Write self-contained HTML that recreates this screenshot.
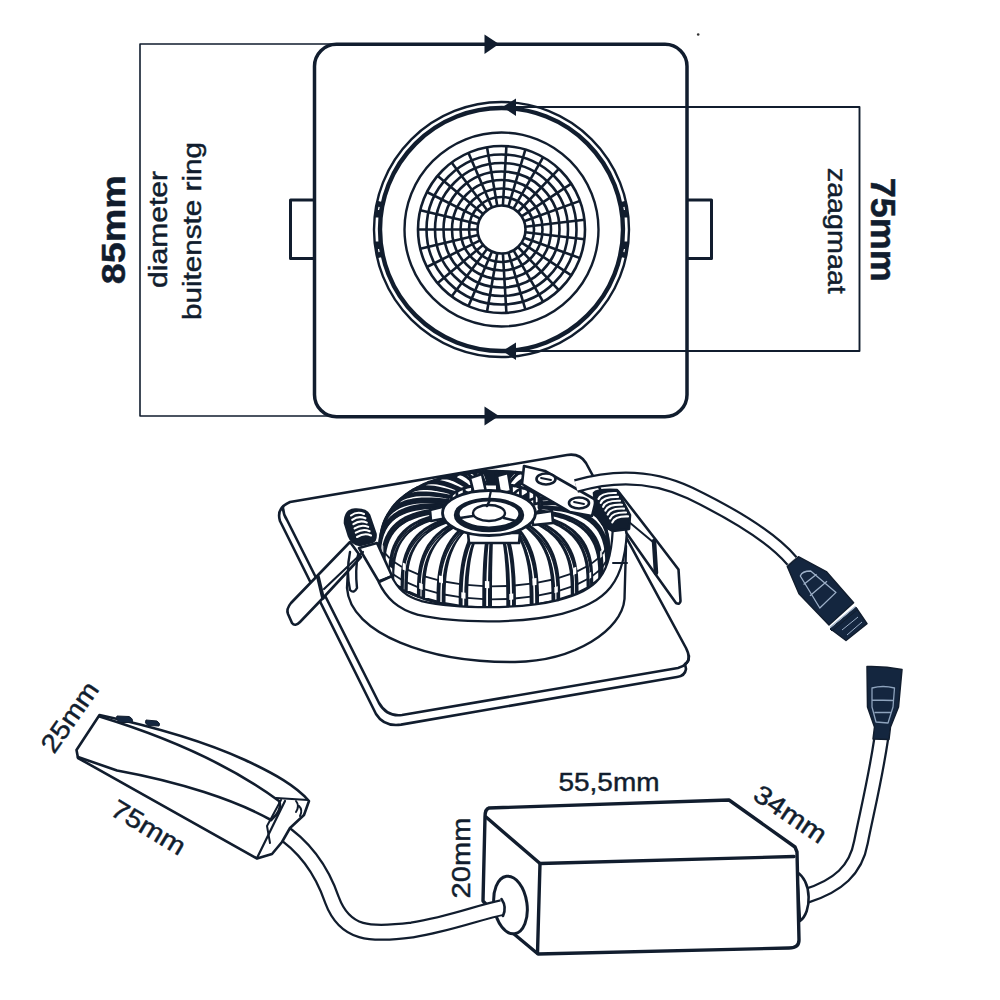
<!DOCTYPE html>
<html><head><meta charset="utf-8"><style>
html,body{margin:0;padding:0;background:#fff;}
svg{display:block;}
</style></head><body>
<svg width="1000" height="1000" viewBox="0 0 1000 1000">
<rect width="1000" height="1000" fill="#fff"/>

<g fill="none" stroke="#111d2e" stroke-linejoin="round" stroke-linecap="round">
  <!-- dimension lines left -->
  <path d="M490,44 H140 V416 H490" stroke-width="1.6"/>
  <!-- big rounded square -->
  <rect x="314.5" y="44.3" width="372.5" height="372.5" rx="22" ry="22" stroke-width="3.5"/>
  <!-- tabs -->
  <path d="M313,200 H290.5 V258.5 H313" stroke-width="3"/>
  <path d="M688,200 H711.5 V258.5 H688" stroke-width="3"/>
  <!-- dimension lines right -->
  <path d="M512,107 H859.5 V351 H512" stroke-width="1.9"/>
</g>
<g fill="#111d2e" stroke="none">
  <circle cx="698.2" cy="34.5" r="1.3" fill="#333"/>
  <path d="M484.5,34.5 L499,44 L484.5,54 Z"/>
  <path d="M484.5,406.5 L499,416 L484.5,425.5 Z"/>
  <path d="M516,98.5 L502.5,107 L516,116 Z"/>
  <path d="M516,342.5 L502.5,351 L516,360 Z"/>
</g>
<g fill="none" stroke="#111d2e">
<circle cx="501.5" cy="229.5" r="127.5" stroke-width="2.4"/>
<circle cx="501.5" cy="229.5" r="121.5" stroke-width="4.4"/>
<circle cx="501.5" cy="229.5" r="97" stroke-width="2.4"/>
<circle cx="501.5" cy="229.5" r="24.0" stroke-width="2.6"/>
<circle cx="501.5" cy="229.5" r="32.5" stroke-width="2.6"/>
<circle cx="501.5" cy="229.5" r="41.0" stroke-width="2.6"/>
<circle cx="501.5" cy="229.5" r="49.5" stroke-width="2.6"/>
<circle cx="501.5" cy="229.5" r="58.0" stroke-width="2.6"/>
<circle cx="501.5" cy="229.5" r="66.5" stroke-width="2.6"/>
<circle cx="501.5" cy="229.5" r="75.0" stroke-width="2.6"/>
<circle cx="501.5" cy="229.5" r="83.5" stroke-width="2.6"/>
<line x1="525.3" y1="232.3" x2="584.4" y2="239.2" stroke-width="2.6"/>
<line x1="524.1" y1="237.7" x2="580.0" y2="258.1" stroke-width="2.6"/>
<line x1="521.6" y1="242.7" x2="571.3" y2="275.4" stroke-width="2.6"/>
<line x1="518.0" y1="247.0" x2="558.8" y2="290.2" stroke-width="2.6"/>
<line x1="513.5" y1="250.3" x2="543.2" y2="301.8" stroke-width="2.6"/>
<line x1="508.4" y1="252.5" x2="525.4" y2="309.5" stroke-width="2.6"/>
<line x1="502.9" y1="253.5" x2="506.4" y2="312.9" stroke-width="2.6"/>
<line x1="497.3" y1="253.1" x2="487.0" y2="311.7" stroke-width="2.6"/>
<line x1="492.0" y1="251.5" x2="468.4" y2="306.2" stroke-width="2.6"/>
<line x1="487.2" y1="248.8" x2="451.6" y2="296.5" stroke-width="2.6"/>
<line x1="483.1" y1="244.9" x2="437.5" y2="283.2" stroke-width="2.6"/>
<line x1="480.1" y1="240.3" x2="426.9" y2="267.0" stroke-width="2.6"/>
<line x1="478.1" y1="235.0" x2="420.3" y2="248.8" stroke-width="2.6"/>
<line x1="477.5" y1="229.5" x2="418.0" y2="229.5" stroke-width="2.6"/>
<line x1="478.1" y1="224.0" x2="420.3" y2="210.2" stroke-width="2.6"/>
<line x1="480.1" y1="218.7" x2="426.9" y2="192.0" stroke-width="2.6"/>
<line x1="483.1" y1="214.1" x2="437.5" y2="175.8" stroke-width="2.6"/>
<line x1="487.2" y1="210.2" x2="451.6" y2="162.5" stroke-width="2.6"/>
<line x1="492.0" y1="207.5" x2="468.4" y2="152.8" stroke-width="2.6"/>
<line x1="497.3" y1="205.9" x2="487.0" y2="147.3" stroke-width="2.6"/>
<line x1="502.9" y1="205.5" x2="506.4" y2="146.1" stroke-width="2.6"/>
<line x1="508.4" y1="206.5" x2="525.4" y2="149.5" stroke-width="2.6"/>
<line x1="513.5" y1="208.7" x2="543.2" y2="157.2" stroke-width="2.6"/>
<line x1="518.0" y1="212.0" x2="558.8" y2="168.8" stroke-width="2.6"/>
<line x1="521.6" y1="216.3" x2="571.3" y2="183.6" stroke-width="2.6"/>
<line x1="524.1" y1="221.3" x2="580.0" y2="200.9" stroke-width="2.6"/>
<line x1="525.3" y1="226.7" x2="584.4" y2="219.8" stroke-width="2.6"/>
<path d="M380.2,257.5 A124.5,124.5 0 0 1 380.2,201.5" stroke-width="6.5"/>
<path d="M377.1,241.5 A125,125 0 0 1 377.1,217.5" stroke="#fff" stroke-width="2.6"/>
<path d="M378.5,249.0 L379.1,252.2" stroke="#fff" stroke-width="1.2"/>
<path d="M378.5,210.0 L379.1,206.8" stroke="#fff" stroke-width="1.2"/>
<path d="M622.8,201.5 A124.5,124.5 0 0 1 622.8,257.5" stroke-width="6.5"/>
<path d="M625.9,217.5 A125,125 0 0 1 625.9,241.5" stroke="#fff" stroke-width="2.6"/>
<path d="M624.5,210.0 L623.9,206.8" stroke="#fff" stroke-width="1.2"/>
<path d="M624.5,249.0 L623.9,252.2" stroke="#fff" stroke-width="1.2"/>
</g>
<g fill="#111d2e" stroke="#111d2e" stroke-width="0.45" font-family="Liberation Sans, sans-serif">
  <text transform="translate(124.5,229.8) rotate(-90)" text-anchor="middle" font-weight="bold" font-size="34" textLength="109" lengthAdjust="spacingAndGlyphs">85mm</text>
  <text transform="translate(166.5,229.5) rotate(-90)" text-anchor="middle" font-size="25" textLength="117" lengthAdjust="spacingAndGlyphs">diameter</text>
  <text transform="translate(201,231) rotate(-90)" text-anchor="middle" font-size="25" textLength="178" lengthAdjust="spacingAndGlyphs">buitenste ring</text>
  <text transform="translate(871,229.7) rotate(90)" text-anchor="middle" font-weight="bold" font-size="35" textLength="104" lengthAdjust="spacingAndGlyphs">75mm</text>
  <text transform="translate(828,230.8) rotate(90)" text-anchor="middle" font-size="25" textLength="126" lengthAdjust="spacingAndGlyphs">zaagmaat</text>
  <text x="609" y="791" text-anchor="middle" font-size="26" textLength="101" lengthAdjust="spacingAndGlyphs">55,5mm</text>
  <text transform="translate(469.5,858) rotate(-90)" text-anchor="middle" font-size="26" textLength="81" lengthAdjust="spacingAndGlyphs">20mm</text>
</g>

<g fill="#fff" stroke="#111d2e" stroke-width="2.6" stroke-linejoin="round" stroke-linecap="round">
  <path d="M290,502 L567,455 Q580,453 586,463 L686,648 Q692,660 685,664 L686,669 Q685,676 677,677 L401,724.6 Q384,727 376,714 L280,521 Q276,508 290,502 Z"/>
  <path d="M283,507 Q283,514 287,520 L379,703 Q387,717 402,715 L678,668 Q689,665 689,656" fill="none"/>
</g>

<g fill="#fff" stroke="#111d2e" stroke-width="2.4" stroke-linejoin="round" stroke-linecap="round">
  <path d="M349,548 L347,588 C350,634 430,663 515,662 C575,661 622,630 624.5,599 L626,546 Z" stroke="none"/>
  <path d="M349,548 L347,588 C350,634 430,663 515,662 C575,661 622,630 624.5,599 L626,546" fill="none"/>
</g>
<g><polygon points="446.0,504.0 430.6,501.9 426.3,499.5 422.9,497.1 424.8,494.5 422.9,491.9 426.1,489.3 426.0,486.8 430.4,484.4 432.2,482.1 437.8,480.0 443.9,478.0 450.3,476.3 457.1,474.8 462.7,473.5 470.3,472.5 478.1,471.8 486.0,471.4 494.0,471.2 502.0,471.4 509.9,471.8 517.7,472.5 525.3,473.5 530.9,474.8 537.7,476.3 544.1,478.0 550.2,480.0 555.8,482.1 557.6,484.4 562.0,486.8 561.9,489.3 565.1,491.9 563.2,494.5 565.1,497.1 561.7,499.5 557.4,501.9 542.0,504.0 609.0,560.0 608.6,564.2 607.3,568.4 605.1,572.5 602.1,576.5 598.2,580.4 593.6,584.1 588.2,587.7 582.1,591.0 575.3,594.2 567.9,597.0 560.0,599.6 551.5,601.8 542.6,603.8 533.3,605.4 523.8,606.7 514.0,607.6 504.0,608.1 494.0,608.3 484.0,608.1 474.0,607.6 464.2,606.7 454.7,605.4 445.4,603.8 436.5,601.8 428.0,599.6 420.1,597.0 412.7,594.2 405.9,591.0 399.8,587.7 394.4,584.1 389.8,580.4 385.9,576.5 382.9,572.5 380.7,568.4 379.4,564.2 379.0,560.0" fill="#111d2e" stroke="#111d2e" stroke-width="3"/>
<polygon points="487.9,484.0 487.6,481.8 487.0,479.7 486.4,477.7 485.8,475.9 485.2,474.4 484.6,473.1 484.1,472.2 483.5,471.6 483.0,471.5 482.6,471.8 482.1,472.6 481.8,473.8 481.4,475.6 481.1,477.9 480.8,480.8 480.6,484.4 480.4,488.6 480.3,493.8 480.2,500.4 480.2,512.0 497.5,511.7 497.5,500.1 497.5,493.5 497.5,488.3 497.4,484.0 497.4,480.5 497.3,477.6 497.2,475.3 497.1,473.5 497.0,472.3 496.9,471.5 496.8,471.3 496.7,471.4 496.5,472.0 496.4,472.9 496.3,474.2 496.1,475.7 496.0,477.5 495.8,479.5 495.6,481.7 495.9,483.9" fill="#fff" stroke="#111d2e" stroke-width="3.0" stroke-linejoin="round"/>
<polygon points="497.9,483.9 498.8,481.7 499.2,479.6 499.7,477.6 500.1,475.8 500.6,474.3 501.0,473.0 501.4,472.1 501.8,471.5 502.2,471.4 502.5,471.7 502.8,472.4 503.1,473.7 503.4,475.5 503.6,477.8 503.8,480.7 504.0,484.2 504.1,488.5 504.2,493.7 504.2,500.2 504.3,511.9 521.3,513.1 521.3,501.4 521.2,494.8 520.9,489.6 520.6,485.4 520.1,481.8 519.6,478.9 519.0,476.5 518.3,474.8 517.5,473.5 516.7,472.7 515.8,472.3 514.8,472.4 513.7,472.9 512.6,473.8 511.5,475.0 510.3,476.5 509.1,478.3 507.9,480.2 506.7,482.3 505.8,484.5" fill="#fff" stroke="#111d2e" stroke-width="3.0" stroke-linejoin="round"/>
<polygon points="481.9,484.5 480.6,482.4 479.3,480.3 478.0,478.4 476.7,476.6 475.5,475.1 474.3,473.9 473.1,473.1 472.0,472.6 471.0,472.5 470.0,472.8 469.1,473.6 468.3,474.9 467.6,476.7 466.9,479.0 466.4,482.0 465.9,485.5 465.6,489.8 465.3,495.0 465.1,501.6 465.1,513.3 470.6,522.2 470.7,512.8 470.8,507.5 470.9,503.3 471.2,499.7 471.5,496.8 471.9,494.3 472.3,492.3 472.8,490.7 473.3,489.5 473.9,488.6 474.6,488.2 475.3,488.0 476.0,488.2 476.8,488.6 477.6,489.3 478.4,490.3 479.3,491.4 480.2,492.7 481.0,494.1 481.9,495.5" fill="#fff" stroke="#111d2e" stroke-width="2.7" stroke-linejoin="round"/>
<polygon points="478.1,485.0 476.8,482.8 475.1,480.8 473.4,478.9 471.8,477.3 470.2,475.8 468.6,474.6 467.1,473.8 465.7,473.4 464.4,473.3 463.1,473.7 462.0,474.5 460.9,475.8 460.0,477.7 459.1,480.0 458.4,483.0 457.8,486.5 457.4,490.8 457.1,496.1 456.9,502.6 456.8,514.3 473.6,512.5 473.6,500.8 473.7,494.2 473.9,489.0 474.1,484.8 474.5,481.2 474.9,478.3 475.3,476.0 475.8,474.2 476.4,472.9 477.0,472.2 477.7,471.8 478.5,472.0 479.2,472.5 480.1,473.4 480.9,474.6 481.8,476.2 482.7,477.9 483.6,479.9 484.5,482.0 485.8,484.1" fill="#fff" stroke="#111d2e" stroke-width="3.0" stroke-linejoin="round"/>
<polygon points="511.5,485.2 513.5,483.2 515.4,481.2 517.3,479.4 519.1,477.7 520.9,476.3 522.7,475.1 524.3,474.3 525.9,473.9 527.4,473.9 528.9,474.3 530.2,475.2 531.4,476.5 532.4,478.3 533.4,480.7 534.2,483.7 534.8,487.3 535.4,491.6 535.7,496.8 536.0,503.4 536.0,515.0 528.0,523.6 527.9,514.3 527.8,508.9 527.5,504.7 527.2,501.2 526.7,498.2 526.2,495.7 525.6,493.6 524.8,492.0 524.0,490.8 523.2,489.9 522.2,489.4 521.2,489.2 520.1,489.3 519.0,489.7 517.8,490.4 516.6,491.2 515.4,492.3 514.1,493.5 512.8,494.9 511.5,496.2" fill="#fff" stroke="#111d2e" stroke-width="2.7" stroke-linejoin="round"/>
<polygon points="507.8,484.7 509.7,482.6 511.2,480.6 512.7,478.7 514.2,477.0 515.7,475.5 517.1,474.3 518.4,473.5 519.7,473.0 520.9,472.9 522.1,473.3 523.1,474.1 524.1,475.4 524.9,477.2 525.7,479.6 526.3,482.5 526.9,486.1 527.3,490.4 527.6,495.6 527.8,502.2 527.8,513.8 544.0,516.5 543.9,504.8 543.6,498.2 543.2,493.0 542.6,488.7 541.8,485.1 540.8,482.1 539.7,479.7 538.4,477.8 537.0,476.4 535.4,475.5 533.8,475.1 532.0,475.0 530.1,475.4 528.1,476.1 526.0,477.2 523.9,478.6 521.7,480.2 519.4,481.9 517.1,483.9 515.2,485.9" fill="#fff" stroke="#111d2e" stroke-width="3.0" stroke-linejoin="round"/>
<polygon points="472.5,486.0 470.2,484.0 467.8,482.1 465.5,480.3 463.3,478.7 461.1,477.4 458.9,476.3 456.9,475.6 454.9,475.3 453.1,475.3 451.4,475.7 449.8,476.7 448.3,478.1 447.0,479.9 445.8,482.4 444.9,485.4 444.0,489.0 443.4,493.3 442.9,498.5 442.7,505.1 442.6,516.8 452.4,525.1 452.5,515.7 452.7,510.3 453.0,506.1 453.4,502.5 453.9,499.5 454.6,497.0 455.4,495.0 456.3,493.3 457.2,492.0 458.3,491.1 459.5,490.5 460.7,490.3 462.0,490.4 463.4,490.7 464.8,491.4 466.3,492.2 467.8,493.2 469.4,494.4 471.0,495.6 472.5,497.0" fill="#fff" stroke="#111d2e" stroke-width="2.7" stroke-linejoin="round"/>
<polygon points="469.0,486.8 466.7,484.8 464.0,483.0 461.3,481.3 458.7,479.8 456.2,478.5 453.8,477.5 451.4,476.9 449.1,476.6 447.0,476.7 445.0,477.2 443.2,478.2 441.5,479.6 440.0,481.5 438.7,484.0 437.6,487.0 436.7,490.7 435.9,495.0 435.4,500.3 435.1,506.9 435.0,518.5 450.5,515.3 450.5,503.6 450.8,497.0 451.2,491.8 451.7,487.5 452.4,483.9 453.2,481.0 454.2,478.6 455.3,476.7 456.5,475.4 457.9,474.5 459.4,474.1 460.9,474.1 462.6,474.5 464.3,475.3 466.1,476.4 468.0,477.8 469.9,479.5 471.9,481.3 473.8,483.3 476.2,485.3" fill="#fff" stroke="#111d2e" stroke-width="3.0" stroke-linejoin="round"/>
<polygon points="520.4,487.2 523.3,485.3 526.2,483.6 529.1,481.9 531.9,480.5 534.6,479.3 537.2,478.3 539.7,477.7 542.1,477.5 544.4,477.6 546.6,478.2 548.5,479.2 550.3,480.6 551.9,482.6 553.3,485.1 554.6,488.1 555.6,491.8 556.3,496.2 556.9,501.4 557.3,508.0 557.4,519.7 545.2,527.4 545.2,518.0 544.9,512.7 544.6,508.4 544.0,504.8 543.4,501.8 542.5,499.2 541.6,497.1 540.5,495.4 539.3,494.1 538.0,493.1 536.6,492.5 535.0,492.2 533.4,492.2 531.7,492.5 529.9,493.0 528.1,493.8 526.2,494.7 524.3,495.8 522.4,496.9 520.4,498.2" fill="#fff" stroke="#111d2e" stroke-width="2.7" stroke-linejoin="round"/>
<polygon points="517.0,486.3 519.9,484.5 522.5,482.6 525.0,480.9 527.4,479.3 529.8,478.0 532.2,477.0 534.4,476.3 536.5,476.0 538.5,476.1 540.4,476.6 542.1,477.5 543.7,478.9 545.2,480.9 546.4,483.3 547.5,486.3 548.4,489.9 549.1,494.3 549.6,499.5 549.9,506.1 550.0,517.8 564.4,521.8 564.3,510.1 563.9,503.5 563.3,498.2 562.4,493.8 561.3,490.1 559.9,487.1 558.4,484.5 556.6,482.5 554.6,481.0 552.4,479.9 550.0,479.3 547.5,479.1 544.8,479.2 542.0,479.8 539.1,480.6 536.1,481.7 533.0,483.1 529.8,484.7 526.6,486.3 523.7,488.2" fill="#fff" stroke="#111d2e" stroke-width="3.0" stroke-linejoin="round"/>
<polygon points="464.1,488.2 460.8,486.5 457.5,484.9 454.3,483.3 451.2,482.0 448.1,480.9 445.1,480.1 442.3,479.5 439.5,479.4 437.0,479.6 434.5,480.3 432.3,481.3 430.3,482.9 428.5,484.9 426.9,487.5 425.5,490.5 424.4,494.2 423.5,498.6 422.8,503.9 422.4,510.6 422.3,522.2 436.0,529.5 436.1,520.1 436.4,514.7 436.8,510.4 437.4,506.8 438.2,503.8 439.1,501.2 440.2,499.0 441.4,497.3 442.7,495.9 444.2,494.9 445.9,494.2 447.6,493.8 449.4,493.8 451.3,494.0 453.3,494.4 455.4,495.1 457.5,496.0 459.7,497.0 461.9,498.1 464.1,499.2" fill="#fff" stroke="#111d2e" stroke-width="2.7" stroke-linejoin="round"/>
<polygon points="461.1,489.3 457.8,487.6 454.2,486.1 450.7,484.7 447.2,483.4 443.9,482.4 440.6,481.7 437.5,481.3 434.5,481.2 431.7,481.5 429.1,482.2 426.7,483.4 424.5,485.0 422.5,487.1 420.7,489.7 419.2,492.8 418.0,496.6 417.0,501.0 416.3,506.3 415.9,512.9 415.7,524.6 429.3,520.1 429.4,508.4 429.8,501.8 430.3,496.5 431.1,492.1 432.2,488.5 433.4,485.4 434.8,482.9 436.5,481.0 438.3,479.5 440.3,478.5 442.5,477.9 444.8,477.7 447.3,478.0 449.9,478.6 452.6,479.5 455.3,480.7 458.2,482.1 461.1,483.8 464.0,485.5 467.3,487.2" fill="#fff" stroke="#111d2e" stroke-width="3.0" stroke-linejoin="round"/>
<polygon points="528.2,489.9 531.9,488.3 535.7,486.8 539.3,485.5 543.0,484.3 546.5,483.4 549.9,482.7 553.1,482.3 556.3,482.3 559.2,482.7 562.0,483.5 564.5,484.7 566.8,486.3 568.9,488.5 570.7,491.1 572.3,494.3 573.6,498.0 574.6,502.5 575.3,507.8 575.8,514.4 575.9,526.1 560.3,532.6 560.2,523.2 559.9,517.8 559.4,513.5 558.7,509.9 557.8,506.8 556.8,504.2 555.5,501.9 554.1,500.1 552.6,498.7 550.9,497.6 549.0,496.8 547.0,496.3 545.0,496.2 542.8,496.3 540.5,496.6 538.1,497.2 535.7,497.9 533.2,498.8 530.7,499.8 528.2,500.9" fill="#fff" stroke="#111d2e" stroke-width="2.7" stroke-linejoin="round"/>
<polygon points="525.3,488.7 529.0,487.2 532.5,485.6 535.9,484.1 539.2,482.8 542.4,481.8 545.6,481.0 548.6,480.5 551.5,480.4 554.2,480.7 556.7,481.4 559.1,482.5 561.2,484.1 563.1,486.2 564.8,488.7 566.3,491.9 567.5,495.6 568.4,500.0 569.1,505.3 569.5,511.9 569.6,523.6 581.8,528.8 581.6,517.1 581.2,510.4 580.4,505.1 579.3,500.6 577.9,496.8 576.2,493.6 574.2,490.9 572.0,488.7 569.5,487.0 566.8,485.7 563.9,484.8 560.7,484.4 557.4,484.3 553.9,484.5 550.2,485.1 546.4,485.9 542.6,487.0 538.6,488.2 534.7,489.6 530.9,491.1" fill="#fff" stroke="#111d2e" stroke-width="3.0" stroke-linejoin="round"/>
<polygon points="456.9,491.2 452.9,489.8 448.8,488.5 444.8,487.3 440.9,486.2 437.1,485.4 433.4,484.9 429.9,484.7 426.5,484.8 423.3,485.3 420.3,486.1 417.6,487.4 415.1,489.2 412.8,491.4 410.8,494.1 409.1,497.3 407.7,501.1 406.6,505.6 405.8,511.0 405.3,517.6 405.2,529.3 422.2,535.2 422.3,525.8 422.6,520.4 423.1,516.1 423.9,512.4 424.8,509.3 426.0,506.6 427.3,504.4 428.8,502.5 430.5,501.0 432.4,499.8 434.4,499.0 436.5,498.4 438.8,498.2 441.2,498.2 443.6,498.5 446.2,498.9 448.8,499.6 451.5,500.4 454.2,501.3 456.9,502.2" fill="#fff" stroke="#111d2e" stroke-width="2.7" stroke-linejoin="round"/>
<polygon points="454.5,492.5 450.4,491.1 446.2,489.9 441.9,488.9 437.8,488.0 433.8,487.3 429.9,486.9 426.1,486.7 422.5,487.0 419.1,487.6 416.0,488.5 413.1,489.9 410.4,491.8 408.0,494.0 405.9,496.8 404.1,500.1 402.6,503.9 401.4,508.5 400.6,513.8 400.1,520.5 399.9,532.2 410.9,526.6 411.1,514.9 411.5,508.3 412.3,502.9 413.3,498.5 414.6,494.7 416.2,491.5 418.1,488.9 420.2,486.8 422.5,485.1 425.1,483.9 427.9,483.1 430.9,482.7 434.0,482.7 437.4,483.0 440.8,483.7 444.4,484.6 448.0,485.8 451.8,487.1 455.5,488.5 459.6,489.9" fill="#fff" stroke="#111d2e" stroke-width="3.0" stroke-linejoin="round"/>
<polygon points="534.5,493.1 538.9,492.0 543.3,490.9 547.6,489.9 551.9,489.0 556.1,488.4 560.1,488.1 564.0,488.0 567.6,488.3 571.1,489.0 574.4,490.0 577.4,491.5 580.1,493.3 582.6,495.7 584.8,498.5 586.6,501.8 588.2,505.7 589.4,510.2 590.2,515.6 590.7,522.3 590.9,534.0 572.4,539.0 572.3,529.6 571.9,524.2 571.3,519.8 570.5,516.1 569.5,512.9 568.2,510.2 566.8,507.9 565.1,505.9 563.3,504.3 561.3,503.0 559.1,502.1 556.7,501.4 554.3,501.1 551.7,501.0 549.0,501.1 546.2,501.5 543.3,502.0 540.4,502.6 537.4,503.4 534.5,504.1" fill="#fff" stroke="#111d2e" stroke-width="2.7" stroke-linejoin="round"/>
<polygon points="532.2,491.8 536.6,490.6 540.8,489.3 544.9,488.2 549.0,487.2 552.9,486.5 556.7,486.0 560.4,485.9 563.9,486.1 567.2,486.6 570.3,487.5 573.1,488.9 575.8,490.7 578.1,492.9 580.1,495.7 581.9,498.9 583.4,502.8 584.5,507.3 585.3,512.6 585.8,519.3 586.0,531.0 595.3,537.1 595.1,525.4 594.6,518.7 593.7,513.3 592.4,508.7 590.8,504.8 588.9,501.4 586.6,498.5 584.0,496.1 581.2,494.2 578.0,492.6 574.6,491.5 571.0,490.7 567.1,490.3 563.1,490.2 558.9,490.4 554.5,490.9 550.1,491.6 545.5,492.4 540.9,493.4 536.5,494.6" fill="#fff" stroke="#111d2e" stroke-width="3.0" stroke-linejoin="round"/>
<polygon points="451.4,494.7 446.7,493.7 442.1,492.8 437.5,491.9 433.0,491.3 428.6,490.8 424.4,490.6 420.3,490.7 416.4,491.2 412.8,492.0 409.4,493.1 406.2,494.7 403.3,496.7 400.7,499.1 398.4,502.0 396.5,505.4 394.8,509.3 393.6,513.9 392.7,519.3 392.1,526.0 391.9,537.7 411.5,542.0 411.6,532.6 412.0,527.2 412.6,522.8 413.4,519.1 414.5,515.9 415.8,513.1 417.3,510.7 419.1,508.7 421.0,507.0 423.2,505.6 425.5,504.6 427.9,503.9 430.5,503.4 433.3,503.2 436.1,503.2 439.1,503.5 442.1,503.9 445.2,504.4 448.3,505.0 451.4,505.7" fill="#fff" stroke="#111d2e" stroke-width="2.7" stroke-linejoin="round"/>
<polygon points="449.7,496.2 445.0,495.2 440.2,494.4 435.5,493.7 430.8,493.2 426.3,492.9 421.9,492.9 417.7,493.1 413.6,493.7 409.8,494.6 406.3,495.9 403.0,497.5 400.0,499.6 397.3,502.1 395.0,505.1 392.9,508.5 391.3,512.5 389.9,517.1 389.0,522.6 388.4,529.3 388.2,541.0 396.2,534.6 396.4,522.9 396.9,516.2 397.8,510.8 399.0,506.2 400.6,502.3 402.4,499.0 404.6,496.2 407.1,493.9 409.9,492.0 412.9,490.5 416.2,489.4 419.7,488.8 423.4,488.5 427.3,488.5 431.4,488.8 435.6,489.4 439.9,490.2 444.3,491.1 448.7,492.2 453.4,493.3" fill="#fff" stroke="#111d2e" stroke-width="3.0" stroke-linejoin="round"/>
<polygon points="538.9,496.9 543.9,496.2 548.8,495.4 553.6,494.9 558.3,494.4 562.9,494.2 567.4,494.2 571.7,494.6 575.8,495.2 579.7,496.2 583.3,497.5 586.6,499.2 589.7,501.4 592.4,503.9 594.8,506.9 596.9,510.4 598.6,514.5 599.9,519.1 600.9,524.6 601.5,531.3 601.7,543.0 581.1,546.3 580.9,536.9 580.6,531.4 579.9,527.0 579.0,523.3 577.9,520.0 576.5,517.1 574.9,514.7 573.0,512.5 571.0,510.8 568.7,509.3 566.3,508.2 563.7,507.3 561.0,506.7 558.1,506.4 555.1,506.2 552.0,506.3 548.8,506.6 545.5,506.9 542.2,507.4 538.9,507.9" fill="#fff" stroke="#111d2e" stroke-width="2.7" stroke-linejoin="round"/>
<polygon points="537.4,495.4 542.3,494.6 547.1,493.7 551.7,493.0 556.3,492.4 560.8,492.1 565.1,491.9 569.3,492.1 573.3,492.6 577.0,493.5 580.5,494.7 583.8,496.3 586.7,498.4 589.4,500.9 591.7,503.8 593.7,507.2 595.4,511.2 596.6,515.8 597.6,521.3 598.1,528.0 598.3,539.7 604.4,546.5 604.2,534.8 603.6,528.0 602.6,522.5 601.3,517.8 599.5,513.7 597.4,510.2 594.9,507.1 592.1,504.4 589.0,502.2 585.6,500.4 581.9,498.9 577.9,497.8 573.7,497.0 569.3,496.6 564.7,496.4 560.0,496.5 555.1,496.8 550.1,497.2 545.1,497.8 540.2,498.5" fill="#fff" stroke="#111d2e" stroke-width="3.0" stroke-linejoin="round"/>
<polygon points="447.7,498.6 442.7,498.1 437.6,497.5 432.7,497.1 427.8,496.9 423.0,496.8 418.4,497.0 414.0,497.5 409.8,498.3 405.8,499.4 402.1,500.9 398.6,502.8 395.5,505.0 392.7,507.7 390.2,510.8 388.1,514.4 386.3,518.4 384.9,523.2 383.9,528.7 383.3,535.4 383.1,547.1 404.4,549.6 404.5,540.2 404.9,534.7 405.6,530.3 406.5,526.5 407.7,523.2 409.1,520.3 410.7,517.7 412.6,515.6 414.7,513.7 417.1,512.2 419.6,510.9 422.2,510.0 425.1,509.3 428.0,508.8 431.1,508.6 434.3,508.5 437.6,508.7 440.9,508.9 444.3,509.2 447.7,509.6" fill="#fff" stroke="#111d2e" stroke-width="2.7" stroke-linejoin="round"/>
<polygon points="446.8,500.3 441.7,499.7 436.6,499.3 431.6,499.1 426.6,499.0 421.7,499.1 417.1,499.5 412.6,500.1 408.3,501.0 404.2,502.3 400.4,503.9 396.9,505.8 393.7,508.2 390.8,510.9 388.3,514.1 386.2,517.7 384.4,521.9 383.0,526.6 382.0,532.2 381.4,539.0 381.2,550.7 385.8,543.7 386.0,532.0 386.5,525.2 387.5,519.7 388.9,515.1 390.6,511.0 392.6,507.5 395.1,504.5 397.8,501.9 400.9,499.8 404.2,498.0 407.9,496.7 411.8,495.7 415.9,495.0 420.2,494.7 424.7,494.6 429.3,494.8 434.1,495.2 439.0,495.8 443.9,496.4 449.0,497.0" fill="#fff" stroke="#111d2e" stroke-width="3.0" stroke-linejoin="round"/>
<polygon points="541.5,501.0 546.7,500.7 551.8,500.4 556.9,500.3 561.9,500.3 566.8,500.5 571.5,500.9 576.1,501.6 580.4,502.6 584.5,503.9 588.3,505.6 591.8,507.6 595.1,510.1 598.0,512.9 600.5,516.1 602.7,519.8 604.5,524.0 605.9,528.7 606.9,534.3 607.5,541.1 607.7,552.8 586.0,554.2 585.8,544.8 585.4,539.3 584.7,534.8 583.8,531.0 582.6,527.6 581.1,524.6 579.4,522.0 577.5,519.7 575.3,517.8 572.9,516.1 570.4,514.7 567.6,513.6 564.7,512.8 561.7,512.2 558.5,511.8 555.2,511.6 551.9,511.5 548.4,511.6 545.0,511.8 541.5,512.0" fill="#fff" stroke="#111d2e" stroke-width="2.7" stroke-linejoin="round"/>
<polygon points="540.7,499.3 545.9,499.0 551.0,498.6 556.0,498.3 561.0,498.1 565.8,498.2 570.4,498.5 574.9,499.0 579.2,499.9 583.2,501.1 587.0,502.6 590.5,504.6 593.6,506.9 596.5,509.6 599.0,512.7 601.1,516.3 602.9,520.5 604.3,525.2 605.3,530.7 605.9,537.5 606.1,549.2 608.7,556.4 608.5,544.7 607.9,537.9 606.8,532.3 605.4,527.5 603.6,523.2 601.4,519.5 598.8,516.2 595.9,513.3 592.7,510.8 589.1,508.6 585.3,506.8 581.1,505.4 576.8,504.2 572.2,503.4 567.4,502.8 562.5,502.4 557.5,502.3 552.3,502.3 547.1,502.4 541.9,502.7" fill="#fff" stroke="#111d2e" stroke-width="3.0" stroke-linejoin="round"/>
<polygon points="446.1,502.8 440.8,502.7 435.6,502.6 430.5,502.6 425.4,502.8 420.5,503.2 415.7,503.8 411.1,504.7 406.8,505.9 402.7,507.4 398.8,509.2 395.2,511.3 392.0,513.9 389.1,516.8 386.5,520.1 384.3,523.9 382.5,528.1 381.1,533.0 380.0,538.6 379.4,545.4 379.2,557.1 401.2,557.7 401.3,548.2 401.7,542.7 402.4,538.2 403.4,534.4 404.6,530.9 406.1,527.9 407.8,525.2 409.7,522.9 411.9,520.8 414.3,519.1 416.9,517.6 419.7,516.4 422.6,515.4 425.7,514.7 428.9,514.2 432.2,513.9 435.6,513.7 439.1,513.7 442.6,513.7 446.1,513.8" fill="#fff" stroke="#111d2e" stroke-width="2.7" stroke-linejoin="round"/>
<polygon points="446.0,504.5 440.7,504.4 435.5,504.4 430.4,504.7 425.3,505.0 420.4,505.5 415.6,506.3 411.0,507.3 406.6,508.6 402.5,510.3 398.6,512.2 395.1,514.5 391.8,517.1 388.9,520.1 386.3,523.5 384.1,527.3 382.3,531.7 380.9,536.5 379.8,542.2 379.2,549.0 379.0,560.7 380.1,553.5 380.3,541.7 380.9,535.0 381.9,529.4 383.3,524.6 385.1,520.4 387.3,516.7 389.8,513.5 392.7,510.7 396.0,508.2 399.5,506.2 403.3,504.5 407.4,503.1 411.8,502.1 416.3,501.4 421.0,500.9 425.9,500.7 430.9,500.6 436.1,500.8 441.2,501.0 446.5,501.1" fill="#fff" stroke="#111d2e" stroke-width="3.0" stroke-linejoin="round"/>
<polygon points="446.5,503.2 441.3,502.9 436.2,502.6 431.1,502.5 426.1,502.5 421.2,502.6 416.5,503.0 411.9,503.7 407.6,504.7 403.5,505.9 399.7,507.5 396.2,509.5 392.9,511.8 390.1,514.5 387.5,517.5 385.3,521.1 383.5,525.1 382.1,529.7 381.1,535.0 380.5,541.5 380.3,552.8 380.8,551.4 381.0,540.1 381.7,533.6 382.7,528.3 384.1,523.7 385.9,519.7 388.0,516.2 390.6,513.2 393.4,510.5 396.6,508.3 400.2,506.4 404.0,504.8 408.0,503.6 412.3,502.7 416.8,502.1 421.5,501.7 426.4,501.6 431.4,501.7 436.5,501.9 441.6,502.3 446.8,502.6" fill="#fff" stroke="#111d2e" stroke-width="1.6" stroke-linejoin="round"/>
<polygon points="541.9,505.2 547.2,505.4 552.4,505.5 557.5,505.8 562.6,506.3 567.5,506.9 572.3,507.8 576.9,508.9 581.2,510.3 585.3,512.0 589.2,514.0 592.8,516.3 596.0,519.0 598.9,522.1 601.5,525.5 603.7,529.4 605.5,533.8 606.9,538.7 608.0,544.3 608.6,551.1 608.8,562.9 586.8,562.3 586.7,552.9 586.3,547.4 585.6,542.9 584.6,538.9 583.4,535.4 581.9,532.3 580.2,529.6 578.3,527.1 576.1,525.0 573.7,523.1 571.1,521.5 568.3,520.2 565.4,519.1 562.3,518.2 559.1,517.5 555.8,517.0 552.4,516.7 548.9,516.4 545.4,516.3 541.9,516.2" fill="#fff" stroke="#111d2e" stroke-width="2.7" stroke-linejoin="round"/>
<polygon points="542.0,503.5 547.3,503.7 552.5,503.7 557.6,503.8 562.7,504.1 567.6,504.6 572.4,505.3 577.0,506.3 581.4,507.5 585.5,509.1 589.4,511.0 592.9,513.2 596.2,515.8 599.1,518.8 601.7,522.1 603.9,525.9 605.7,530.2 607.1,535.1 608.2,540.7 608.8,547.5 609.0,559.3 607.9,566.5 607.7,554.8 607.1,547.9 606.1,542.2 604.7,537.3 602.9,532.9 600.7,528.9 598.2,525.4 595.3,522.2 592.0,519.4 588.5,517.0 584.7,514.9 580.6,513.0 576.2,511.5 571.7,510.2 567.0,509.2 562.1,508.5 557.1,507.8 551.9,507.4 546.8,507.0 541.5,506.9" fill="#fff" stroke="#111d2e" stroke-width="3.0" stroke-linejoin="round"/>
<polygon points="541.5,509.3 546.7,509.6 551.8,510.0 556.9,510.5 561.9,511.1 566.8,511.9 571.5,512.9 576.1,514.1 580.4,515.6 584.5,517.4 588.3,519.5 591.8,521.9 595.1,524.6 597.9,527.7 600.5,531.1 602.7,534.9 604.5,539.1 605.9,543.9 606.9,549.3 607.5,555.9 607.7,567.2 607.2,568.6 607.0,557.3 606.3,550.7 605.3,545.3 603.9,540.5 602.1,536.2 600.0,532.4 597.4,528.9 594.6,525.8 591.4,523.1 587.8,520.7 584.0,518.5 580.0,516.7 575.7,515.1 571.2,513.8 566.5,512.8 561.6,511.9 556.6,511.2 551.5,510.7 546.4,510.2 541.2,509.8" fill="#fff" stroke="#111d2e" stroke-width="1.6" stroke-linejoin="round"/>
<polygon points="446.5,507.0 441.3,507.3 436.2,507.7 431.1,508.2 426.1,508.9 421.2,509.7 416.5,510.7 411.9,512.0 407.6,513.5 403.5,515.4 399.7,517.5 396.2,520.0 392.9,522.8 390.0,526.0 387.5,529.6 385.3,533.5 383.5,537.9 382.1,542.9 381.1,548.6 380.5,555.4 380.3,567.2 402.0,565.8 402.2,556.4 402.6,550.9 403.3,546.3 404.2,542.3 405.4,538.8 406.9,535.6 408.6,532.8 410.5,530.3 412.7,528.0 415.1,526.1 417.6,524.4 420.4,522.9 423.3,521.7 426.3,520.7 429.5,519.9 432.8,519.3 436.1,518.9 439.6,518.5 443.0,518.2 446.5,518.0" fill="#fff" stroke="#111d2e" stroke-width="2.7" stroke-linejoin="round"/>
<polygon points="447.3,508.7 442.1,509.0 437.0,509.5 432.0,510.2 427.0,511.0 422.2,512.0 417.6,513.1 413.1,514.6 408.8,516.3 404.8,518.2 401.0,520.5 397.5,523.1 394.4,526.0 391.5,529.3 389.0,532.9 386.9,536.9 385.1,541.4 383.7,546.4 382.7,552.1 382.1,559.0 381.9,570.8 379.3,563.6 379.5,551.8 380.1,545.0 381.2,539.3 382.6,534.4 384.4,530.1 386.6,526.2 389.2,522.7 392.1,519.6 395.3,516.9 398.9,514.5 402.7,512.5 406.9,510.8 411.2,509.4 415.8,508.2 420.6,507.4 425.5,506.7 430.5,506.2 435.7,505.9 440.9,505.7 446.1,505.3" fill="#fff" stroke="#111d2e" stroke-width="3.0" stroke-linejoin="round"/>
<polygon points="446.1,507.4 440.8,507.6 435.6,507.8 430.5,508.1 425.4,508.5 420.5,509.1 415.7,509.9 411.1,511.0 406.8,512.3 402.6,514.0 398.8,515.9 395.2,518.1 392.0,520.7 389.1,523.7 386.5,527.0 384.3,530.7 382.5,534.9 381.1,539.6 380.0,545.0 379.4,551.6 379.2,562.9 379.1,561.5 379.3,550.2 379.9,543.6 380.9,538.2 382.3,533.5 384.1,529.4 386.4,525.7 388.9,522.4 391.8,519.5 395.1,516.9 398.7,514.7 402.5,512.8 406.7,511.3 411.0,510.0 415.6,509.0 420.4,508.2 425.3,507.6 430.4,507.3 435.5,507.0 440.8,506.9 446.0,506.8" fill="#fff" stroke="#111d2e" stroke-width="1.6" stroke-linejoin="round"/>
<polygon points="540.3,509.4 545.3,510.0 550.4,510.6 555.3,511.4 560.2,512.2 565.0,513.3 569.6,514.6 574.0,516.1 578.2,517.9 582.2,519.9 585.9,522.2 589.4,524.9 592.5,527.9 595.3,531.2 597.8,534.9 599.9,538.9 601.7,543.4 603.1,548.5 604.1,554.2 604.7,561.1 604.9,572.9 583.6,570.4 583.5,560.9 583.1,555.4 582.4,550.8 581.5,546.8 580.3,543.2 578.9,540.0 577.3,537.1 575.4,534.4 573.3,532.1 570.9,530.0 568.4,528.2 565.8,526.6 562.9,525.2 560.0,524.1 556.9,523.1 553.7,522.4 550.4,521.7 547.1,521.2 543.7,520.8 540.3,520.4" fill="#fff" stroke="#111d2e" stroke-width="2.7" stroke-linejoin="round"/>
<polygon points="541.2,507.7 546.3,508.3 551.4,508.8 556.4,509.4 561.4,510.1 566.3,511.0 570.9,512.2 575.4,513.5 579.7,515.2 583.8,517.1 587.6,519.3 591.1,521.8 594.3,524.7 597.2,527.9 599.7,531.5 601.8,535.5 603.6,540.0 605.0,545.0 606.0,550.7 606.6,557.6 606.8,569.3 602.2,576.3 602.0,564.6 601.5,557.6 600.5,551.9 599.1,546.8 597.4,542.2 595.4,538.1 592.9,534.4 590.2,531.0 587.1,527.9 583.8,525.1 580.1,522.7 576.2,520.5 572.1,518.6 567.8,516.9 563.3,515.5 558.7,514.3 553.9,513.3 549.0,512.4 544.1,511.6 539.0,511.0" fill="#fff" stroke="#111d2e" stroke-width="3.0" stroke-linejoin="round"/>
<polygon points="538.9,513.3 543.9,514.1 548.7,514.9 553.6,515.9 558.3,516.9 562.9,518.1 567.4,519.6 571.7,521.2 575.8,523.1 579.7,525.2 583.3,527.6 586.6,530.3 589.7,533.3 592.4,536.6 594.8,540.2 596.9,544.2 598.6,548.6 599.9,553.5 600.9,559.0 601.5,565.7 601.6,577.0 600.4,578.3 600.2,567.0 599.7,560.3 598.7,554.8 597.4,549.9 595.7,545.5 593.7,541.5 591.3,537.8 588.6,534.5 585.6,531.4 582.3,528.7 578.7,526.3 574.9,524.1 570.8,522.1 566.6,520.5 562.1,519.0 557.6,517.7 552.9,516.6 548.1,515.6 543.3,514.7 538.4,513.9" fill="#fff" stroke="#111d2e" stroke-width="1.6" stroke-linejoin="round"/>
<line x1="606.8" y1="560.3" x2="602.2" y2="567.3" stroke="#111d2e" stroke-width="1.8"/>
<line x1="606.8" y1="547.3" x2="602.2" y2="554.3" stroke="#111d2e" stroke-width="1.8"/>
<polygon points="601.8,556.8 600.2,558.5 600.2,551.5 601.8,549.8" fill="#fff" stroke="none"/>
<polygon points="449.1,511.1 444.1,511.9 439.2,512.7 434.4,513.6 429.7,514.7 425.1,515.9 420.6,517.4 416.3,519.0 412.2,521.0 408.3,523.2 404.7,525.6 401.4,528.4 398.3,531.5 395.6,534.9 393.2,538.7 391.1,542.9 389.4,547.4 388.1,552.5 387.1,558.3 386.5,565.2 386.3,577.0 406.9,573.7 407.1,564.3 407.4,558.7 408.1,554.1 409.0,550.0 410.1,546.4 411.5,543.1 413.1,540.1 415.0,537.5 417.0,535.0 419.3,532.9 421.7,530.9 424.3,529.3 427.0,527.8 429.9,526.5 432.9,525.5 436.0,524.6 439.2,523.8 442.5,523.2 445.8,522.6 449.1,522.1" fill="#fff" stroke="#111d2e" stroke-width="2.7" stroke-linejoin="round"/>
<polygon points="450.6,512.6 445.7,513.4 440.9,514.4 436.3,515.5 431.7,516.7 427.2,518.1 422.9,519.7 418.7,521.5 414.7,523.5 411.0,525.8 407.5,528.4 404.2,531.3 401.3,534.5 398.6,538.0 396.3,541.9 394.3,546.1 392.6,550.7 391.4,555.8 390.4,561.6 389.9,568.5 389.7,580.3 383.6,573.5 383.8,561.7 384.4,554.8 385.4,549.1 386.7,544.1 388.5,539.5 390.6,535.5 393.1,531.8 395.9,528.5 399.0,525.5 402.4,522.8 406.1,520.4 410.1,518.3 414.3,516.6 418.7,515.0 423.3,513.7 428.0,512.6 432.9,511.7 437.9,510.9 442.9,510.3 447.8,509.5" fill="#fff" stroke="#111d2e" stroke-width="3.0" stroke-linejoin="round"/>
<polygon points="447.7,511.6 442.7,512.2 437.6,512.8 432.6,513.6 427.8,514.4 423.0,515.5 418.4,516.7 414.0,518.2 409.8,519.9 405.8,521.9 402.0,524.2 398.6,526.7 395.5,529.6 392.6,532.8 390.2,536.3 388.0,540.2 386.3,544.6 384.9,549.4 383.9,554.9 383.3,561.5 383.1,572.8 382.3,571.5 382.5,560.2 383.1,553.5 384.1,548.0 385.5,543.2 387.2,538.9 389.4,535.0 391.9,531.5 394.7,528.4 397.9,525.5 401.3,523.0 405.1,520.8 409.1,518.9 413.4,517.2 417.8,515.8 422.5,514.6 427.3,513.6 432.2,512.8 437.2,512.1 442.3,511.6 447.4,511.0" fill="#fff" stroke="#111d2e" stroke-width="1.6" stroke-linejoin="round"/>
<line x1="389.7" y1="571.3" x2="383.6" y2="564.5" stroke="#111d2e" stroke-width="1.8"/>
<line x1="389.7" y1="558.3" x2="383.6" y2="551.5" stroke="#111d2e" stroke-width="1.8"/>
<polygon points="383.3,553.0 382.2,551.2 382.2,544.2 383.3,546.0" fill="#fff" stroke="none"/>
<polygon points="536.6,513.3 541.3,514.3 545.9,515.4 550.5,516.6 555.0,517.9 559.4,519.3 563.6,521.0 567.7,522.9 571.6,525.0 575.2,527.4 578.6,530.0 581.8,533.0 584.7,536.2 587.3,539.8 589.6,543.7 591.5,547.9 593.2,552.6 594.4,557.7 595.3,563.5 595.9,570.5 596.1,582.3 576.5,578.0 576.4,568.5 576.0,563.0 575.4,558.3 574.6,554.2 573.5,550.5 572.2,547.2 570.7,544.1 568.9,541.3 567.0,538.8 564.8,536.5 562.5,534.5 560.1,532.7 557.5,531.1 554.7,529.7 551.9,528.5 548.9,527.4 545.9,526.5 542.8,525.7 539.7,525.0 536.6,524.3" fill="#fff" stroke="#111d2e" stroke-width="2.7" stroke-linejoin="round"/>
<polygon points="538.3,511.8 543.0,512.8 547.8,513.7 552.5,514.7 557.2,515.9 561.7,517.2 566.1,518.7 570.3,520.5 574.4,522.5 578.2,524.8 581.7,527.3 585.0,530.1 588.0,533.3 590.7,536.8 593.0,540.6 595.1,544.8 596.7,549.4 598.1,554.5 599.0,560.3 599.6,567.2 599.8,579.0 591.8,585.4 591.6,573.6 591.1,566.7 590.2,560.8 589.0,555.6 587.4,550.9 585.6,546.6 583.4,542.7 580.9,539.0 578.1,535.7 575.1,532.7 571.8,529.9 568.3,527.4 564.6,525.1 560.7,523.1 556.6,521.3 552.4,519.7 548.1,518.3 543.7,517.0 539.3,515.8 534.6,514.7" fill="#fff" stroke="#111d2e" stroke-width="3.0" stroke-linejoin="round"/>
<polygon points="534.4,517.1 538.9,518.3 543.3,519.5 547.6,520.9 551.9,522.3 556.0,523.9 560.1,525.7 563.9,527.7 567.6,529.9 571.1,532.4 574.4,535.1 577.4,538.1 580.1,541.3 582.6,544.8 584.7,548.7 586.6,552.8 588.1,557.4 589.3,562.4 590.2,568.0 590.7,574.7 590.9,586.0 589.0,587.2 588.9,575.9 588.3,569.2 587.5,563.5 586.3,558.5 584.8,554.0 583.0,549.8 580.9,545.9 578.5,542.4 575.8,539.1 572.8,536.1 569.6,533.3 566.2,530.8 562.6,528.6 558.8,526.5 554.8,524.7 550.8,523.0 546.6,521.5 542.3,520.1 538.0,518.8 533.7,517.6" fill="#fff" stroke="#111d2e" stroke-width="1.6" stroke-linejoin="round"/>
<line x1="599.8" y1="570.0" x2="591.8" y2="576.4" stroke="#111d2e" stroke-width="1.8"/>
<line x1="599.8" y1="557.0" x2="591.8" y2="563.4" stroke="#111d2e" stroke-width="1.8"/>
<polygon points="591.2,577.8 588.7,579.4 588.7,573.4 591.2,571.8" fill="#fff" stroke="none"/>
<polygon points="453.5,514.9 449.1,516.0 444.7,517.3 440.4,518.6 436.1,520.1 431.9,521.7 427.9,523.5 424.0,525.6 420.4,527.8 416.9,530.4 413.6,533.1 410.6,536.2 407.9,539.5 405.4,543.2 403.2,547.2 401.4,551.5 399.8,556.2 398.6,561.4 397.8,567.2 397.3,574.2 397.1,586.0 415.6,581.0 415.7,571.6 416.1,566.0 416.7,561.3 417.5,557.2 418.5,553.4 419.8,550.0 421.2,546.9 422.9,544.1 424.7,541.5 426.7,539.1 428.9,537.0 431.3,535.1 433.7,533.4 436.3,531.9 439.0,530.6 441.8,529.4 444.7,528.4 447.6,527.5 450.6,526.7 453.5,525.9" fill="#fff" stroke="#111d2e" stroke-width="2.7" stroke-linejoin="round"/>
<polygon points="455.8,516.2 451.4,517.4 447.2,518.8 443.1,520.3 439.0,521.9 435.1,523.6 431.3,525.6 427.6,527.7 424.1,530.1 420.8,532.7 417.7,535.6 414.9,538.8 412.2,542.2 409.9,545.9 407.9,550.0 406.1,554.3 404.6,559.1 403.5,564.3 402.7,570.2 402.2,577.2 402.0,589.0 392.7,582.9 392.9,571.1 393.4,564.1 394.3,558.3 395.6,553.1 397.2,548.5 399.1,544.2 401.4,540.3 404.0,536.8 406.8,533.5 410.0,530.5 413.4,527.9 417.0,525.4 420.9,523.3 424.9,521.4 429.1,519.7 433.5,518.2 437.9,516.9 442.5,515.7 447.1,514.6 451.5,513.4" fill="#fff" stroke="#111d2e" stroke-width="3.0" stroke-linejoin="round"/>
<polygon points="451.4,515.5 446.7,516.5 442.1,517.6 437.5,518.8 433.0,520.1 428.6,521.5 424.4,523.1 420.3,525.0 416.4,527.0 412.8,529.4 409.3,532.0 406.2,534.8 403.3,537.9 400.7,541.4 398.4,545.1 396.4,549.2 394.8,553.7 393.5,558.6 392.6,564.2 392.1,570.9 391.9,582.2 390.4,581.0 390.6,569.7 391.1,563.0 392.1,557.4 393.3,552.5 395.0,548.0 397.0,543.9 399.3,540.2 401.9,536.8 404.9,533.7 408.1,530.9 411.6,528.4 415.3,526.1 419.2,524.1 423.4,522.3 427.7,520.7 432.1,519.3 436.7,518.1 441.3,517.0 446.0,516.0 450.8,515.0" fill="#fff" stroke="#111d2e" stroke-width="1.6" stroke-linejoin="round"/>
<line x1="402.0" y1="580.0" x2="392.7" y2="573.9" stroke="#111d2e" stroke-width="1.8"/>
<line x1="402.0" y1="567.0" x2="392.7" y2="560.9" stroke="#111d2e" stroke-width="1.8"/>
<polygon points="392.2,574.4 390.2,572.8 390.2,566.8 392.2,568.4" fill="#fff" stroke="none"/>
<polygon points="531.1,516.8 535.1,518.2 539.2,519.7 543.2,521.2 547.1,522.9 550.9,524.7 554.6,526.7 558.1,528.9 561.5,531.4 564.7,534.1 567.7,537.0 570.4,540.2 572.9,543.7 575.2,547.5 577.2,551.6 578.9,556.0 580.3,560.7 581.4,566.0 582.2,571.9 582.7,578.9 582.8,590.7 565.8,584.8 565.7,575.3 565.4,569.7 564.9,565.0 564.1,560.9 563.2,557.1 562.0,553.6 560.7,550.4 559.2,547.5 557.5,544.8 555.6,542.4 553.6,540.2 551.5,538.1 549.2,536.3 546.8,534.7 544.4,533.3 541.8,532.0 539.2,530.8 536.5,529.7 533.8,528.8 531.1,527.8" fill="#fff" stroke="#111d2e" stroke-width="2.7" stroke-linejoin="round"/>
<polygon points="533.5,515.5 537.6,516.9 541.8,518.2 546.1,519.6 550.2,521.2 554.2,522.9 558.1,524.8 561.9,526.9 565.5,529.2 568.9,531.8 572.0,534.6 574.9,537.7 577.6,541.1 580.0,544.8 582.1,548.8 583.9,553.2 585.4,557.9 586.6,563.1 587.4,569.0 587.9,576.0 588.1,587.8 577.1,593.4 576.9,581.6 576.5,574.6 575.7,568.7 574.7,563.4 573.4,558.6 571.8,554.1 569.9,550.0 567.8,546.1 565.5,542.6 562.9,539.3 560.1,536.2 557.1,533.5 554.0,530.9 550.6,528.6 547.2,526.5 543.6,524.5 540.0,522.7 536.2,521.1 532.5,519.5 528.4,518.1" fill="#fff" stroke="#111d2e" stroke-width="3.0" stroke-linejoin="round"/>
<polygon points="528.2,520.4 531.9,522.0 535.6,523.6 539.3,525.2 542.9,527.0 546.4,529.0 549.8,531.1 553.1,533.4 556.2,535.9 559.2,538.7 561.9,541.6 564.5,544.9 566.8,548.3 568.9,552.1 570.7,556.1 572.3,560.4 573.6,565.0 574.6,570.1 575.3,575.8 575.7,582.6 575.9,593.9 573.5,594.9 573.3,583.6 572.9,576.8 572.2,571.1 571.2,566.0 570.0,561.3 568.4,557.0 566.7,553.0 564.6,549.2 562.4,545.7 559.9,542.5 557.3,539.5 554.4,536.7 551.4,534.1 548.2,531.8 544.9,529.6 541.5,527.6 538.0,525.8 534.4,524.1 530.8,522.4 527.2,520.8" fill="#fff" stroke="#111d2e" stroke-width="1.6" stroke-linejoin="round"/>
<line x1="588.1" y1="578.8" x2="577.1" y2="584.4" stroke="#111d2e" stroke-width="1.8"/>
<line x1="588.1" y1="565.8" x2="577.1" y2="571.4" stroke="#111d2e" stroke-width="1.8"/>
<polygon points="576.3,573.8 573.1,575.1 573.1,568.1 576.3,566.8" fill="#fff" stroke="none"/>
<polygon points="459.8,518.1 456.1,519.7 452.3,521.3 448.7,523.0 445.0,524.8 441.5,526.8 438.1,528.9 434.9,531.3 431.7,533.8 428.8,536.6 426.0,539.7 423.5,543.0 421.2,546.6 419.1,550.4 417.3,554.6 415.7,559.0 414.4,563.9 413.4,569.2 412.7,575.1 412.2,582.1 412.1,593.9 427.7,587.4 427.8,577.9 428.1,572.3 428.6,567.6 429.3,563.4 430.2,559.6 431.2,556.1 432.5,552.9 433.9,549.9 435.4,547.1 437.1,544.6 439.0,542.3 441.0,540.2 443.0,538.3 445.2,536.6 447.5,535.1 449.9,533.7 452.3,532.4 454.8,531.3 457.3,530.2 459.8,529.1" fill="#fff" stroke="#111d2e" stroke-width="2.7" stroke-linejoin="round"/>
<polygon points="462.7,519.3 459.0,520.9 455.5,522.6 452.1,524.4 448.8,526.3 445.6,528.4 442.4,530.6 439.4,533.1 436.5,535.7 433.8,538.6 431.3,541.8 428.9,545.1 426.8,548.8 424.9,552.7 423.2,556.9 421.7,561.4 420.5,566.3 419.6,571.6 418.9,577.6 418.5,584.6 418.4,596.4 406.2,591.2 406.4,579.4 406.8,572.4 407.6,566.5 408.7,561.3 410.1,556.5 411.8,552.0 413.8,548.0 416.0,544.2 418.5,540.7 421.2,537.5 424.1,534.5 427.3,531.8 430.6,529.3 434.1,527.1 437.8,525.0 441.6,523.2 445.4,521.5 449.4,519.9 453.3,518.5 457.1,516.9" fill="#fff" stroke="#111d2e" stroke-width="3.0" stroke-linejoin="round"/>
<polygon points="456.9,519.0 452.8,520.4 448.8,521.9 444.8,523.4 440.9,525.1 437.1,526.9 433.4,528.9 429.9,531.1 426.5,533.5 423.3,536.1 420.3,538.9 417.5,542.1 415.0,545.4 412.8,549.1 410.8,553.0 409.1,557.3 407.7,561.9 406.6,566.9 405.8,572.6 405.3,579.3 405.1,590.7 403.0,589.6 403.2,578.2 403.7,571.5 404.5,565.9 405.6,560.8 407.1,556.2 408.8,552.0 410.8,548.1 413.2,544.5 415.7,541.1 418.6,538.0 421.6,535.2 424.9,532.6 428.3,530.3 432.0,528.1 435.8,526.2 439.7,524.4 443.7,522.8 447.7,521.3 451.9,519.9 456.0,518.6" fill="#fff" stroke="#111d2e" stroke-width="1.6" stroke-linejoin="round"/>
<line x1="418.4" y1="587.4" x2="406.2" y2="582.2" stroke="#111d2e" stroke-width="1.8"/>
<line x1="418.4" y1="574.4" x2="406.2" y2="569.2" stroke="#111d2e" stroke-width="1.8"/>
<polygon points="405.5,570.8 402.7,569.4 402.7,562.4 405.5,563.8" fill="#fff" stroke="none"/>
<polygon points="523.9,519.8 527.2,521.5 530.5,523.3 533.7,525.1 536.8,527.1 539.9,529.3 542.9,531.6 545.7,534.1 548.5,536.8 551.0,539.7 553.5,542.9 555.7,546.3 557.7,550.0 559.5,554.0 561.1,558.2 562.5,562.7 563.6,567.6 564.5,573.0 565.2,578.9 565.6,586.0 565.7,597.8 552.0,590.5 551.9,581.1 551.6,575.4 551.2,570.7 550.6,566.5 549.8,562.6 548.9,559.1 547.8,555.8 546.6,552.7 545.3,549.9 543.8,547.3 542.1,544.9 540.4,542.7 538.6,540.7 536.7,538.9 534.7,537.3 532.6,535.8 530.5,534.4 528.3,533.1 526.1,531.9 523.9,530.8" fill="#fff" stroke="#111d2e" stroke-width="2.7" stroke-linejoin="round"/>
<polygon points="526.9,518.7 530.2,520.4 533.8,522.1 537.3,523.8 540.8,525.7 544.1,527.7 547.4,529.9 550.5,532.3 553.5,535.0 556.3,537.8 558.9,540.9 561.3,544.3 563.5,547.9 565.5,551.8 567.3,556.0 568.8,560.5 570.0,565.3 571.0,570.6 571.7,576.6 572.1,583.6 572.3,595.4 558.7,599.9 558.6,588.1 558.2,581.1 557.7,575.1 556.9,569.7 555.8,564.8 554.6,560.2 553.2,555.9 551.5,551.9 549.7,548.2 547.7,544.7 545.5,541.4 543.2,538.4 540.7,535.6 538.1,533.0 535.4,530.6 532.7,528.4 529.8,526.3 526.9,524.4 524.0,522.5 520.7,520.8" fill="#fff" stroke="#111d2e" stroke-width="3.0" stroke-linejoin="round"/>
<polygon points="520.4,523.1 523.3,524.9 526.2,526.8 529.0,528.8 531.8,530.9 534.5,533.1 537.2,535.5 539.7,538.0 542.1,540.8 544.4,543.8 546.5,547.0 548.5,550.4 550.3,554.0 551.9,557.9 553.3,562.1 554.5,566.5 555.5,571.3 556.3,576.4 556.9,582.2 557.2,589.0 557.3,600.3 554.5,601.1 554.4,589.7 554.0,583.0 553.5,577.2 552.7,572.0 551.8,567.2 550.6,562.8 549.3,558.6 547.7,554.7 546.0,551.0 544.1,547.6 542.1,544.4 539.9,541.4 537.6,538.6 535.2,536.0 532.7,533.6 530.1,531.3 527.5,529.2 524.7,527.2 522.0,525.3 519.2,523.4" fill="#fff" stroke="#111d2e" stroke-width="1.6" stroke-linejoin="round"/>
<line x1="572.3" y1="586.4" x2="558.7" y2="590.9" stroke="#111d2e" stroke-width="1.8"/>
<line x1="572.3" y1="573.4" x2="558.7" y2="577.9" stroke="#111d2e" stroke-width="1.8"/>
<polygon points="557.8,592.2 554.0,593.2 554.0,587.2 557.8,586.2" fill="#fff" stroke="none"/>
<polygon points="467.6,520.8 464.7,522.7 461.8,524.6 458.9,526.5 456.1,528.6 453.4,530.9 450.8,533.3 448.3,535.9 445.9,538.7 443.6,541.7 441.4,545.0 439.5,548.5 437.7,552.3 436.1,556.3 434.7,560.6 433.4,565.2 432.4,570.1 431.7,575.5 431.1,581.4 430.7,588.5 430.6,600.3 442.8,592.6 442.8,583.1 443.1,577.5 443.4,572.7 444.0,568.5 444.6,564.6 445.5,561.0 446.4,557.7 447.5,554.6 448.7,551.7 450.0,549.1 451.4,546.6 453.0,544.4 454.6,542.3 456.3,540.4 458.1,538.7 459.9,537.1 461.8,535.7 463.7,534.3 465.6,533.1 467.6,531.8" fill="#fff" stroke="#111d2e" stroke-width="2.7" stroke-linejoin="round"/>
<polygon points="471.0,521.7 468.1,523.6 465.5,525.5 463.0,527.6 460.6,529.8 458.2,532.1 455.8,534.6 453.6,537.3 451.5,540.1 449.5,543.2 447.6,546.6 445.9,550.1 444.3,553.9 442.8,558.0 441.6,562.3 440.5,567.0 439.6,571.9 438.9,577.3 438.4,583.3 438.1,590.4 438.0,602.2 423.6,598.2 423.7,586.4 424.1,579.3 424.7,573.4 425.6,568.0 426.7,563.1 428.1,558.6 429.6,554.3 431.4,550.4 433.4,546.7 435.6,543.2 438.0,540.1 440.5,537.1 443.2,534.4 446.0,531.8 448.9,529.5 451.9,527.4 455.0,525.4 458.2,523.5 461.4,521.7 464.3,519.8" fill="#fff" stroke="#111d2e" stroke-width="3.0" stroke-linejoin="round"/>
<polygon points="464.1,522.0 460.8,523.7 457.5,525.5 454.3,527.4 451.1,529.3 448.1,531.4 445.1,533.7 442.2,536.2 439.5,538.8 436.9,541.7 434.5,544.8 432.3,548.2 430.2,551.7 428.4,555.6 426.8,559.7 425.4,564.0 424.3,568.8 423.4,573.9 422.8,579.6 422.4,586.4 422.3,597.7 419.7,596.8 419.8,585.5 420.2,578.8 420.9,573.0 421.8,567.9 423.0,563.2 424.4,558.8 426.0,554.7 427.9,550.9 430.0,547.4 432.3,544.1 434.8,541.0 437.5,538.2 440.3,535.5 443.3,533.1 446.4,530.9 449.6,528.8 452.9,526.9 456.2,525.0 459.6,523.3 463.0,521.6" fill="#fff" stroke="#111d2e" stroke-width="1.6" stroke-linejoin="round"/>
<line x1="438.0" y1="593.2" x2="423.6" y2="589.2" stroke="#111d2e" stroke-width="1.8"/>
<line x1="438.0" y1="580.2" x2="423.6" y2="576.2" stroke="#111d2e" stroke-width="1.8"/>
<polygon points="422.7,589.9 419.2,588.7 419.2,582.7 422.7,583.9" fill="#fff" stroke="none"/>
<polygon points="515.5,522.0 517.8,524.0 520.2,526.0 522.5,528.1 524.7,530.4 526.9,532.7 529.1,535.3 531.1,538.0 533.1,540.9 534.9,544.0 536.6,547.4 538.2,551.0 539.7,554.8 541.0,558.9 542.2,563.3 543.1,567.9 544.0,572.9 544.6,578.3 545.1,584.3 545.3,591.4 545.4,603.2 535.6,594.9 535.5,585.4 535.3,579.8 535.0,575.0 534.6,570.8 534.1,566.8 533.4,563.2 532.6,559.8 531.7,556.7 530.8,553.8 529.7,551.1 528.5,548.6 527.3,546.2 526.0,544.1 524.6,542.2 523.2,540.4 521.7,538.7 520.2,537.2 518.6,535.7 517.0,534.4 515.5,533.0" fill="#fff" stroke="#111d2e" stroke-width="2.7" stroke-linejoin="round"/>
<polygon points="519.0,521.2 521.3,523.2 524.0,525.2 526.7,527.2 529.3,529.3 531.8,531.6 534.2,534.1 536.6,536.7 538.9,539.6 541.0,542.7 543.0,546.0 544.8,549.5 546.5,553.3 548.0,557.3 549.3,561.6 550.4,566.3 551.3,571.2 552.1,576.6 552.6,582.6 552.9,589.6 553.0,601.5 537.5,604.7 537.5,592.9 537.2,585.8 536.8,579.8 536.3,574.4 535.6,569.4 534.8,564.7 533.8,560.3 532.7,556.2 531.5,552.3 530.1,548.7 528.6,545.2 527.1,542.1 525.4,539.1 523.7,536.3 521.9,533.7 520.0,531.3 518.1,529.0 516.1,526.8 514.2,524.7 511.8,522.7" fill="#fff" stroke="#111d2e" stroke-width="3.0" stroke-linejoin="round"/>
<polygon points="511.5,525.0 513.4,527.1 515.3,529.2 517.2,531.4 519.1,533.6 520.9,536.1 522.6,538.6 524.3,541.4 525.9,544.3 527.4,547.5 528.8,550.8 530.1,554.4 531.3,558.2 532.4,562.2 533.3,566.4 534.1,570.9 534.8,575.8 535.3,581.0 535.7,586.8 535.9,593.6 536.0,605.0 532.8,605.5 532.7,594.1 532.5,587.3 532.2,581.5 531.7,576.3 531.1,571.4 530.3,566.9 529.5,562.6 528.5,558.6 527.4,554.8 526.2,551.2 524.9,547.9 523.5,544.7 522.0,541.7 520.5,539.0 518.9,536.4 517.2,533.9 515.5,531.6 513.7,529.4 512.0,527.3 510.2,525.2" fill="#fff" stroke="#111d2e" stroke-width="1.6" stroke-linejoin="round"/>
<line x1="553.0" y1="592.5" x2="537.5" y2="595.7" stroke="#111d2e" stroke-width="1.8"/>
<line x1="553.0" y1="579.5" x2="537.5" y2="582.7" stroke="#111d2e" stroke-width="1.8"/>
<polygon points="536.5,584.9 532.3,585.5 532.3,578.5 536.5,577.9" fill="#fff" stroke="none"/>
<polygon points="476.5,522.8 474.5,524.8 472.6,526.9 470.7,529.1 468.9,531.4 467.1,533.9 465.3,536.5 463.7,539.3 462.1,542.2 460.6,545.4 459.1,548.9 457.8,552.5 456.6,556.4 455.6,560.5 454.6,564.9 453.8,569.6 453.2,574.6 452.6,580.0 452.3,586.1 452.0,593.1 452.0,605.0 460.0,596.4 460.1,586.9 460.2,581.2 460.5,576.4 460.8,572.1 461.3,568.2 461.8,564.6 462.4,561.2 463.2,558.0 464.0,555.0 464.8,552.3 465.8,549.7 466.8,547.4 467.9,545.2 469.0,543.2 470.2,541.4 471.4,539.6 472.6,538.1 473.9,536.6 475.2,535.2 476.5,533.8" fill="#fff" stroke="#111d2e" stroke-width="2.7" stroke-linejoin="round"/>
<polygon points="480.2,523.3 478.3,525.4 476.8,527.5 475.3,529.8 473.8,532.1 472.3,534.6 470.9,537.3 469.6,540.1 468.3,543.2 467.1,546.4 465.9,549.9 464.9,553.5 463.9,557.5 463.1,561.6 462.3,566.1 461.7,570.8 461.1,575.8 460.7,581.2 460.4,587.3 460.2,594.3 460.2,606.2 444.0,603.5 444.1,591.7 444.4,584.6 444.8,578.6 445.4,573.2 446.2,568.2 447.2,563.6 448.3,559.2 449.6,555.1 451.0,551.3 452.6,547.7 454.2,544.3 456.0,541.1 457.9,538.2 459.9,535.5 462.0,532.9 464.1,530.5 466.3,528.3 468.6,526.2 470.9,524.2 472.8,522.1" fill="#fff" stroke="#111d2e" stroke-width="3.0" stroke-linejoin="round"/>
<polygon points="472.5,524.3 470.2,526.2 467.8,528.3 465.5,530.4 463.2,532.6 461.0,534.9 458.9,537.4 456.8,540.1 454.9,543.0 453.0,546.0 451.3,549.3 449.7,552.8 448.2,556.6 446.9,560.5 445.8,564.8 444.8,569.2 444.0,574.1 443.3,579.3 442.9,585.0 442.6,591.8 442.5,603.2 439.5,602.5 439.6,591.2 439.9,584.4 440.4,578.6 441.1,573.4 441.9,568.6 443.0,564.1 444.2,559.9 445.6,556.0 447.1,552.3 448.8,548.8 450.6,545.5 452.6,542.5 454.7,539.6 456.9,537.0 459.1,534.5 461.5,532.2 463.9,530.0 466.3,527.9 468.8,525.9 471.3,524.0" fill="#fff" stroke="#111d2e" stroke-width="1.6" stroke-linejoin="round"/>
<line x1="460.2" y1="597.2" x2="444.0" y2="594.5" stroke="#111d2e" stroke-width="1.8"/>
<line x1="460.2" y1="584.2" x2="444.0" y2="581.5" stroke="#111d2e" stroke-width="1.8"/>
<polygon points="443.0,583.3 439.0,582.4 439.0,575.4 443.0,576.3" fill="#fff" stroke="none"/>
<polygon points="506.1,523.5 507.4,525.7 508.7,527.8 510.0,530.1 511.3,532.5 512.5,535.0 513.7,537.7 514.9,540.5 516.0,543.6 517.0,546.9 518.0,550.4 518.9,554.1 519.7,558.0 520.4,562.2 521.1,566.6 521.6,571.3 522.1,576.4 522.4,581.8 522.7,587.8 522.9,594.9 522.9,606.7 517.4,597.8 517.3,588.3 517.2,582.7 517.1,577.9 516.8,573.6 516.5,569.6 516.1,565.9 515.7,562.5 515.2,559.3 514.7,556.3 514.1,553.5 513.4,550.9 512.7,548.5 512.0,546.3 511.2,544.3 510.4,542.4 509.6,540.6 508.7,539.0 507.8,537.4 507.0,536.0 506.1,534.5" fill="#fff" stroke="#111d2e" stroke-width="2.7" stroke-linejoin="round"/>
<polygon points="509.9,523.0 511.2,525.2 512.9,527.3 514.6,529.5 516.2,531.9 517.8,534.3 519.4,537.0 520.9,539.8 522.3,542.8 523.6,546.0 524.9,549.5 526.0,553.2 527.1,557.1 528.0,561.2 528.9,565.6 529.6,570.3 530.2,575.3 530.6,580.8 530.9,586.8 531.1,593.9 531.2,605.7 514.4,607.5 514.4,595.7 514.3,588.6 514.1,582.6 513.9,577.1 513.5,572.1 513.1,567.3 512.7,562.9 512.2,558.7 511.6,554.7 511.0,551.0 510.3,547.5 509.5,544.2 508.8,541.1 507.9,538.2 507.1,535.5 506.2,533.0 505.3,530.5 504.4,528.2 503.5,526.0 502.2,523.9" fill="#fff" stroke="#111d2e" stroke-width="3.0" stroke-linejoin="round"/>
<polygon points="501.8,526.1 502.7,528.3 503.6,530.5 504.4,532.8 505.2,535.2 506.0,537.8 506.8,540.5 507.6,543.3 508.3,546.4 509.0,549.6 509.6,553.0 510.2,556.7 510.7,560.5 511.2,564.6 511.6,568.9 512.0,573.5 512.3,578.4 512.5,583.7 512.7,589.5 512.8,596.3 512.8,607.7 509.5,607.9 509.4,596.5 509.3,589.7 509.2,583.9 509.0,578.6 508.8,573.7 508.5,569.1 508.1,564.8 507.7,560.7 507.3,556.9 506.8,553.2 506.3,549.8 505.7,546.5 505.2,543.5 504.5,540.6 503.9,537.9 503.2,535.4 502.6,533.0 501.9,530.6 501.2,528.4 500.4,526.2" fill="#fff" stroke="#111d2e" stroke-width="1.6" stroke-linejoin="round"/>
<line x1="531.2" y1="596.7" x2="514.4" y2="598.5" stroke="#111d2e" stroke-width="1.8"/>
<line x1="531.2" y1="583.7" x2="514.4" y2="585.5" stroke="#111d2e" stroke-width="1.8"/>
<polygon points="513.3,599.6 508.9,599.9 508.9,593.9 513.3,593.6" fill="#fff" stroke="none"/>
<polygon points="490.1,524.1 489.2,526.3 488.8,528.5 488.3,530.9 487.9,533.3 487.4,535.9 487.0,538.6 486.6,541.5 486.2,544.6 485.8,547.9 485.5,551.5 485.2,555.2 484.9,559.2 484.6,563.4 484.4,567.9 484.2,572.6 484.0,577.7 483.9,583.1 483.8,589.2 483.8,596.3 483.7,608.1 466.7,606.9 466.7,595.1 466.8,588.0 467.1,582.0 467.4,576.5 467.9,571.5 468.4,566.8 469.0,562.3 469.7,558.1 470.5,554.2 471.3,550.5 472.2,547.0 473.2,543.7 474.3,540.7 475.4,537.8 476.5,535.1 477.7,532.6 478.9,530.2 480.1,527.9 481.3,525.7 482.2,523.5" fill="#fff" stroke="#111d2e" stroke-width="3.0" stroke-linejoin="round"/>
<polygon points="481.9,525.7 480.6,527.9 479.3,530.1 478.0,532.3 476.7,534.7 475.4,537.2 474.2,539.8 473.1,542.7 472.0,545.7 470.9,548.9 470.0,552.3 469.1,555.9 468.2,559.7 467.5,563.8 466.9,568.1 466.3,572.6 465.8,577.5 465.5,582.8 465.2,588.6 465.1,595.4 465.0,606.7 461.8,606.4 461.8,595.0 462.0,588.2 462.3,582.4 462.7,577.1 463.2,572.3 463.8,567.7 464.5,563.4 465.4,559.4 466.3,555.6 467.3,552.0 468.3,548.6 469.5,545.4 470.7,542.4 472.0,539.6 473.4,537.0 474.7,534.5 476.2,532.1 477.6,529.9 479.1,527.7 480.5,525.6" fill="#fff" stroke="#111d2e" stroke-width="1.6" stroke-linejoin="round"/>
<line x1="483.7" y1="599.1" x2="466.7" y2="597.9" stroke="#111d2e" stroke-width="1.8"/>
<line x1="483.7" y1="586.1" x2="466.7" y2="584.9" stroke="#111d2e" stroke-width="1.8"/>
<polygon points="465.5,598.8 461.3,598.3 461.3,592.3 465.5,592.8" fill="#fff" stroke="none"/>
<polygon points="500.1,524.0 500.4,526.2 501.0,528.5 501.6,530.8 502.2,533.2 502.8,535.8 503.4,538.5 503.9,541.4 504.5,544.5 505.0,547.8 505.4,551.3 505.9,555.1 506.2,559.1 506.6,563.3 506.9,567.7 507.2,572.5 507.4,577.5 507.6,583.0 507.7,589.0 507.8,596.1 507.8,608.0 490.5,608.3 490.5,596.4 490.5,589.4 490.5,583.3 490.6,577.8 490.6,572.8 490.7,568.0 490.8,563.6 490.9,559.4 491.0,555.4 491.1,551.6 491.2,548.1 491.3,544.8 491.5,541.6 491.6,538.7 491.7,536.0 491.9,533.4 492.0,531.0 492.2,528.6 492.4,526.4 492.1,524.1" fill="#fff" stroke="#111d2e" stroke-width="3.0" stroke-linejoin="round"/>
<polygon points="491.8,526.4 491.6,528.6 491.3,530.8 491.1,533.2 490.9,535.6 490.7,538.2 490.4,540.9 490.2,543.8 490.0,546.8 489.9,550.1 489.7,553.5 489.5,557.2 489.4,561.1 489.2,565.2 489.1,569.5 489.0,574.1 488.9,579.0 488.9,584.2 488.8,590.1 488.8,596.9 488.8,608.3 485.4,608.2 485.4,596.8 485.5,590.0 485.6,584.2 485.7,578.9 485.8,574.0 486.0,569.4 486.2,565.1 486.4,561.0 486.6,557.1 486.9,553.5 487.2,550.0 487.5,546.8 487.8,543.7 488.2,540.8 488.5,538.1 488.9,535.5 489.3,533.1 489.6,530.8 490.0,528.6 490.4,526.3" fill="#fff" stroke="#111d2e" stroke-width="1.6" stroke-linejoin="round"/>
<line x1="507.8" y1="599.0" x2="490.5" y2="599.3" stroke="#111d2e" stroke-width="1.8"/>
<line x1="507.8" y1="586.0" x2="490.5" y2="586.3" stroke="#111d2e" stroke-width="1.8"/>
<polygon points="489.3,588.3 484.9,588.1 484.9,581.1 489.3,581.3" fill="#fff" stroke="none"/></g>
<g fill="#fff" stroke="#111d2e" stroke-width="2.6" stroke-linejoin="round" stroke-linecap="round">
  <!-- cable clamp with screws -->
  <path d="M524,466 L545,471 L596,500 L592,516 L570,512 L522,484 Z"/>
  <ellipse cx="546" cy="479" rx="9.5" ry="5.5"/>
  <path d="M541,478 L551,480" stroke-width="1.8"/>
  <ellipse cx="579" cy="503" rx="10" ry="5.5"/>
  <path d="M574,502 L584,504" stroke-width="1.8"/>
  <!-- spokes around hub -->
  <path d="M430,510 L446,506 L447,518 L431,521 Z"/>
  <path d="M532,514 L552,511 L553,523 L533,525 Z"/>
  <path d="M468,533 L520,533 L519,543 L469,543 Z"/>
  <path d="M470,478 L482,474 L486,492 L474,494 Z"/>
  <path d="M497,476 L508,473 L511,491 L500,494 Z"/>
  <!-- hub band -->
  <ellipse cx="489" cy="513" rx="46.5" ry="22.5" stroke-width="2.8"/>
  <ellipse cx="489" cy="515" rx="34" ry="16" fill="#111d2e" stroke-width="2.4"/>
  <ellipse cx="489" cy="514" rx="30.5" ry="13.5" stroke-width="2.2"/>
  <ellipse cx="489" cy="513" rx="16" ry="8" stroke-width="2.4"/>
  <path d="M490,500 L487,506 M460,518 L473,516 M516,521 L504,518" fill="none" stroke-width="2.6"/>
  <path d="M491,490.5 L489,500" fill="none" stroke-width="2.2"/>
</g>

<g fill="#fff" stroke="#111d2e" stroke-width="2.6" stroke-linejoin="round" stroke-linecap="round">
  <!-- U-shaped spring band around heatsink -->
  <path d="M385,579 C392,594 402,603 420,608 C455,616 520,617 560,607 C600,596 620,582 620,521" fill="none" stroke-width="16.5" stroke-linecap="butt"/>
  <path d="M384,577 C392,594 402,603 420,608 C455,616 520,617 560,607 C600,596 620,582 620,521" fill="none" stroke="#fff" stroke-width="12" stroke-linecap="butt"/>
  <path d="M359,548 L377,543 L392,576 L379,582 Z"/>
  <path d="M613,563 L627,563 M379,581 L392,576" stroke-width="2"/>
  <!-- left clip bar -->
  <path d="M350,542 L291,603 Q286,609 288,614 L292,623 Q295,627 300,622 L323,598 L361,557 Z"/>
  <path d="M318,577 L323,598" stroke-width="3.8"/>
  <path d="M324,589 L363,552" fill="none" stroke-width="2.2"/>
  <!-- left hook -->
  <path d="M350,552 Q346,572 350,590 Q354,594 357,588 Q355,570 358,555" fill="none" stroke-width="2.4"/>
  <!-- left coil -->
  <path d="M345,523 Q345,510 355,509.5 Q366,509 369,515 L375.5,534 Q376,541 372,542 L360,545 Q352,544 349,536 Z" fill="#111d2e"/>
  <path d="M351.0,515.5 Q357.0,511.0 364.0,514.0 M352.2,519.8 Q358.5,515.3 365.4,518.3 M353.4,524.1 Q360.0,519.6 366.8,522.6 M354.6,528.4 Q361.5,523.9 368.2,526.9 M355.8,532.7 Q363.0,528.2 369.6,531.2 M357.0,537.0 Q364.5,532.5 371.0,535.5" fill="none" stroke="#fff" stroke-width="2.1"/>
</g>
<g fill="#fff" stroke="#111d2e" stroke-width="2.6" stroke-linejoin="round" stroke-linecap="round">
  <!-- right clip bar -->
  <path d="M618,491 L656,540 L678.5,569.5 L680.5,601 Q680,605 676,603 L656,575 L626.5,533 Z"/>
  <path d="M654,541 L656,573" stroke-width="4.5"/>
  <path d="M629,522 L653,542" fill="none" stroke-width="2"/>
  <!-- right spring arm -->
    <!-- right coil -->
  <path d="M594,493 Q597,489 617,490 L630,515 L629,529 L613,531 Q600,526 596,512 Z" fill="#111d2e"/>
  <path d="M598.5,499.0 Q601.0,492.5 616.0,493.0 M600.8,502.9 Q603.3,496.4 618.0,496.9 M603.1,506.8 Q605.6,500.3 620.0,500.8 M605.4,510.7 Q607.9,504.2 622.0,504.7 M607.7,514.6 Q610.2,508.1 624.0,508.6 M610.0,518.5 Q612.5,512.0 626.0,512.5 M612.3,522.4 Q614.8,515.9 628.0,516.4" fill="none" stroke="#fff" stroke-width="2.1"/>
</g>

<g fill="none" stroke-linejoin="round">
  <path d="M576,486 C610,476 650,474 690,493 C725,510 770,535 792,561" stroke="#111d2e" stroke-width="14"/>
  <path d="M576,486 C610,476 650,474 690,493 C725,510 770,535 792,561" stroke="#fff" stroke-width="9.6"/>
</g>
<g fill="#14263f" stroke="#111d2e" stroke-width="1.5" stroke-linejoin="round">
  <path d="M787.3,566.4 L798.4,556.7 L826.3,571.6 L853.6,602.8 L829,625 L799,593.7 Z"/>
  <path d="M832,630 L857,609 L867,623.6 L846,640.5 Z"/>
  <path d="M830,629 L856,607 L857.5,609.5 L832,631 Z" stroke-width="1"/>
</g>
<g fill="none" stroke="#9db0c8" stroke-width="1.3" stroke-linejoin="round">
  <path d="M800.3,576 Q802,571 810.7,571 L836,592.4 L819.8,608 Z M803.6,584.6 L816.6,574.2 M810,595.7 L827,581.3"/>
  <path d="M830,627.5 L855.5,606.5" stroke-width="1.1"/>
  <path d="M842,630 L858,617 M847,635 L862,622" stroke-width="1"/>
</g>

<g fill="none" stroke="#111d2e" stroke-linejoin="round" stroke-linecap="round">
  <!-- cable from junction box to driver: white tube -->
  <!-- cable from driver to connector -->
  <path d="M806,896 C838,886 856,870 861,842 C867,812 875,780 881,740" stroke="#111d2e" stroke-width="16"/>
  <path d="M806,896 C838,886 856,870 861,842 C867,812 875,780 881,740" stroke="#fff" stroke-width="11.5"/>
</g>
<!-- driver box -->
<g fill="#fff" stroke="#111d2e" stroke-width="3.4" stroke-linejoin="round" stroke-linecap="round">
  <path d="M797,872 C812,882 812,912 800,921 Z" stroke-width="2.6"/>
  <path d="M489,808 L729,800 L795,847 L797,852 L799,940 Q799,948 789,948 L538,954 L514,934 L483,901 L485,817 Q485,809 489,808 Z"/>
  <path d="M486,817 L540,863.5 L794,856.5" fill="none"/>
  <path d="M540,863.5 L537.5,953" fill="none"/>
  <ellipse cx="510.5" cy="905" rx="16.5" ry="29" transform="rotate(-8 510.5 905)" stroke-width="3"/>
</g>
<g fill="none" stroke="#111d2e" stroke-linejoin="round">
  <path d="M278,829 C300,843 320,865 332,900 C345,935 370,935 412,930 C450,924 480,912 502,907.5" stroke="#111d2e" stroke-width="17" stroke-linecap="butt"/>
  <path d="M278,829 C300,843 320,865 332,900 C345,935 370,935 412,930 C450,924 480,912 503,907.5" stroke="#fff" stroke-width="12.5" stroke-linecap="butt"/>
  <path d="M501.5,899 Q507,907 503,916" stroke-width="2.6" stroke-linecap="round"/>
</g>
<g fill="#111d2e" stroke="#111d2e" stroke-width="0.45" font-family="Liberation Sans, sans-serif" font-size="26">
  <text transform="translate(77,722) rotate(-55)" text-anchor="middle" textLength="80" lengthAdjust="spacingAndGlyphs">25mm</text>
  <text transform="translate(144,835) rotate(31)" text-anchor="middle" textLength="82" lengthAdjust="spacingAndGlyphs">75mm</text>
  <text transform="translate(785.5,821.5) rotate(34)" text-anchor="middle" textLength="82" lengthAdjust="spacingAndGlyphs">34mm</text>
</g>
<!-- junction box -->
<g fill="#fff" stroke="#111d2e" stroke-width="2.6" stroke-linejoin="round" stroke-linecap="round">
  <path d="M99.5,715 C160,728 210,744 245,760 C275,774 296,786 309,801 L304,815 L290,828 L282,842 L272,854 L257,858.5 L78,758 L76.5,750 Z"/>
  <path d="M99.5,716.5 C170,738 230,765 279,801 Q282,807 276,815 L271,820" fill="none"/>
  <path d="M78,757 L117,770.5 C180,782 235,800 271,820" fill="none"/>
  <path d="M276,798 L308,800" fill="none" stroke-width="2.2"/>
  <path d="M285,801 L257,858" fill="none" stroke-width="2.2"/>
  <path d="M281,800 L267,826 L270,843" fill="none" stroke-width="2"/>
  <path d="M296,801 Q300,806 296,812 M299,806 Q303,810 300,816" fill="none" stroke-width="2"/>
</g>
<g fill="#14263f" stroke="#111d2e" stroke-width="1">
  <path d="M117,716 L129,716.5 Q134,719 132,722.5 L120,722.5 Q115,719 117,716 Z"/>
  <path d="M146,720 L157,721 Q161,723.5 159,726 L148,725.5 Q144,723 146,720 Z"/>
</g>
<!-- bottom connector -->
<g fill="#14263f" stroke="#111d2e" stroke-width="1.5" stroke-linejoin="round">
  <path d="M867,666.5 Q885,666 902,669.5 L898.5,707 L890.5,727 L889,739.5 L873,739 L874.5,727 L867.5,707 Z"/>
</g>
<g fill="none" stroke="#8ea3bd" stroke-width="1.3" stroke-linejoin="round">
  <path d="M872,700 L872,688 Q883,685 894.5,688 L893,707 L888,723 L876,722 L872,707 Z M872,700 L894,700.5 M874.5,712.5 L891,712.5"/>
</g>

</svg>
</body></html>
